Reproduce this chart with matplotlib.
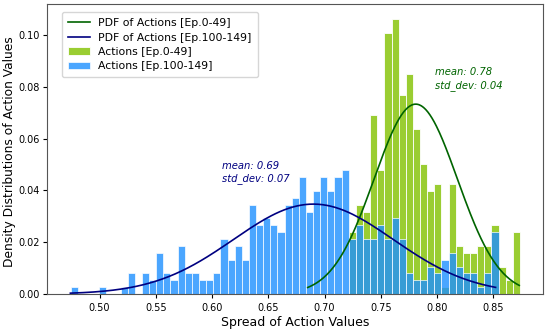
import numpy as np
import matplotlib
matplotlib.use('Agg')
import matplotlib.pyplot as plt

# histogram grid shared by both episode ranges
bin_start = 0.4742
bin_width = 0.00634
n_samples = 377

# counts per bin, blue = episodes 100-149 (bins 0..59)
counts_late = [1, 0, 0, 0, 1, 0, 0, 1, 3, 0,
               3, 2, 6, 3, 2, 7, 3, 3, 2, 2,
               3, 8, 5, 7, 5, 13, 10, 11, 10, 9,
               13, 14, 17, 12, 15, 17, 15, 17, 18, 8,
               10, 8, 8, 10, 8, 11, 8, 3, 2, 2,
               4, 3, 5, 6, 4, 3, 3, 1, 3, 9]
# counts per bin, green = episodes 0-49 (bins 39..62)
first_bin_early = 39
counts_early = [9, 13, 12, 26, 18, 38, 40, 29, 32, 24,
                19, 15, 16, 1, 16, 7, 6, 6, 7, 7,
                10, 4, 2, 9]

# fitted normal curves
mean_early, std_early, scale_early = 0.781, 0.037, 0.0068
mean_late, std_late, scale_late = 0.690, 0.071, 0.00618
range_early = (0.685, 0.873)
range_late = (0.474, 0.852)


def pdf(x, mu, sd, scale):
    return scale * np.exp(-0.5 * ((x - mu) / sd) ** 2) / (sd * np.sqrt(2 * np.pi))


edges_late = bin_start + bin_width * np.arange(len(counts_late))
edges_early = bin_start + bin_width * (first_bin_early + np.arange(len(counts_early)))

fig, ax = plt.subplots(figsize=(5.5, 3.3), dpi=100)
plt.subplots_adjust(left=0.085, right=0.987, top=0.988, bottom=0.109)

x = np.linspace(range_early[0], range_early[1], 200)
ax.plot(x, pdf(x, mean_early, std_early, scale_early), color='darkgreen', lw=1.2,
        label='PDF of Actions [Ep.0-49]', zorder=3)
x = np.linspace(range_late[0], range_late[1], 200)
ax.plot(x, pdf(x, mean_late, std_late, scale_late), color='navy', lw=1.2,
        label='PDF of Actions [Ep.100-149]', zorder=3)

ax.bar(edges_early, np.array(counts_early) / n_samples, width=bin_width, align='edge',
       color='yellowgreen', edgecolor='white', linewidth=0.6, label='Actions [Ep.0-49]')
ax.bar(edges_late, np.array(counts_late) / n_samples, width=bin_width, align='edge',
       color='dodgerblue', alpha=0.8, edgecolor='white', linewidth=0.6,
       label='Actions [Ep.100-149]')

ax.text(0.609, 0.0515, 'mean: 0.69\nstd_dev: 0.07', color='navy', style='italic',
        fontsize=7.2, va='top', linespacing=1.3)
ax.text(0.798, 0.0875, 'mean: 0.78\nstd_dev: 0.04', color='darkgreen', style='italic',
        fontsize=7.2, va='top', linespacing=1.3)

ax.set_xlim(0.453, 0.894)
ax.set_ylim(0, 0.112)
ax.set_xticks(np.arange(0.50, 0.851, 0.05))
ax.set_yticks(np.arange(0.0, 0.101, 0.02))
ax.tick_params(labelsize=7, length=3)
ax.tick_params(axis='y', pad=2)
ax.xaxis.set_major_formatter(matplotlib.ticker.FormatStrFormatter('%.2f'))
ax.yaxis.set_major_formatter(matplotlib.ticker.FormatStrFormatter('%.2f'))
ax.set_xlabel('Spread of Action Values', fontsize=9, labelpad=2)
ax.set_ylabel('Density Distributions of Action Values', fontsize=8.8)
ax.yaxis.set_label_coords(-0.061, 0.49)
for s in ax.spines.values():
    s.set_color('#555555')

ax.legend(loc='upper left', fontsize=7.8, borderpad=0.55, labelspacing=0.4,
          handlelength=2.0, bbox_to_anchor=(0.02, 0.99))

plt.savefig('out.png', dpi=100)
